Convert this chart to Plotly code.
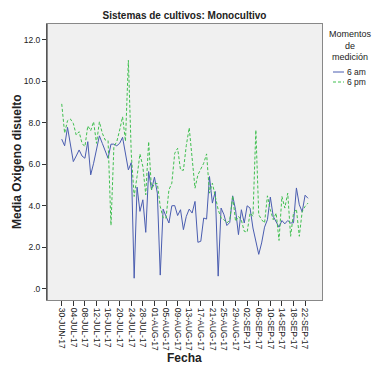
import pandas as pd
import plotly.graph_objects as go

title = "Sistemas de cultivos: Monocultivo"
x_title = "Fecha"
y_title = "Media Oxigeno disuelto"
start_date = "2017-06-30"
legend_title = "Momentos<br>de<br>medición"
series_names = ["6 am", "6 pm"]

am_6 = [7.2, 6.88, 7.77, 7.0, 6.12, 6.39, 6.68, 6.39, 6.28, 7.08,
        5.48, 6.04, 6.68, 7.36, 7.0, 6.68, 6.28, 6.96, 6.96, 6.88,
        7.0, 7.29, 6.52, 5.72, 6.07, 0.5, 4.89, 3.72, 4.28, 2.71,
        5.64, 4.76, 5.37, 4.6, 0.65, 3.83, 3.48, 3.16, 3.99, 4.0,
        3.52, 3.8, 2.84, 3.48, 3.83, 3.64, 4.2, 2.23, 2.28, 3.4,
        3.35, 5.4, 4.12, 4.68, 0.6, 3.88, 3.56, 3.04, 3.19, 4.47,
        3.8, 2.6, 3.8, 3.16, 3.99, 3.88, 2.92, 2.3, 1.65, 2.2,
        2.96, 3.32, 4.41, 3.48, 3.24, 2.96, 3.28, 3.12, 3.28, 3.16,
        3.17, 4.85, 4.04, 3.7, 4.5, 4.35]

pm_6 = [8.9, 7.49, 8.09, 8.17, 7.96, 7.4, 7.56, 7.0, 6.84, 7.84,
        7.61, 8.04, 7.0, 8.04, 7.49, 7.16, 7.13, 3.05, 6.84, 7.08,
        7.64, 8.28, 7.1, 11.0, 6.5, 4.44, 5.4, 6.49, 5.88, 4.52,
        7.08, 4.76, 5.08, 5.06, 3.96, 3.4, 3.4, 4.76, 5.08, 6.52,
        6.76, 5.72, 5.7, 6.9, 7.75, 6.36, 4.84, 5.48, 5.8, 6.04,
        6.49, 4.6, 5.08, 4.44, 3.8, 3.4, 3.32, 3.16, 3.3, 4.47,
        3.24, 3.48, 3.3, 2.76, 2.72, 3.64, 3.48, 7.64, 3.56, 3.32,
        3.16, 4.47, 3.8, 3.32, 3.64, 2.32, 4.44, 3.88, 4.6, 2.52,
        3.64, 3.83, 2.52, 3.72, 3.96, 4.12]

y_tickvals = [0, 2, 4, 6, 8, 10, 12]
y_ticktext = [".0", "2.0", "4.0", "6.0", "8.0", "10.0", "12.0"]

dates = pd.date_range(start_date, periods=len(am_6), freq="D")
x_ticks = pd.date_range(start_date, "2017-09-22", freq="4D")
x_ticktext = [d.strftime("%d-%b-%y").upper() for d in x_ticks]

font_family = "Liberation Sans, Arial, sans-serif"
colors = ["#4a5db0", "#3fbf4f"]
dashes = ["solid", "3px,2px"]

W, H = 377, 376
L, R, T, B = 47, 55, 24, 76
PW, PH = W - L - R, H - T - B


def px(x):
    return (x - L) / PW


def py(y):
    return (H - B - y) / PH


fig = go.Figure()
fig.add_trace(go.Scatter(x=dates, y=am_6, mode="lines", name=series_names[0],
                         line=dict(color=colors[0], width=1)))
fig.add_trace(go.Scatter(x=dates, y=pm_6, mode="lines", name=series_names[1],
                         line=dict(color=colors[1], width=1, dash=dashes[1])))

fig.update_layout(
    width=W, height=H,
    margin=dict(l=L, r=R, t=T, b=B, autoexpand=False),
    paper_bgcolor="white",
    plot_bgcolor="#f0f0f0",
    font=dict(family=font_family, size=9, color="#222"),
    title=dict(text="<b>" + title + "</b>", x=(L + PW / 2) / W, xanchor="center",
               y=1 - 15 / H, yanchor="middle", font=dict(size=10, color="#222")),
    showlegend=False,
)

# axis titles
fig.add_annotation(xref="paper", yref="paper", x=px(L + PW / 2), y=py(358),
                   xanchor="center", yanchor="middle", showarrow=False,
                   text="<b>" + x_title + "</b>", font=dict(size=12, color="#222"))
fig.add_annotation(xref="paper", yref="paper", x=px(17), y=py(T + PH / 2),
                   xanchor="center", yanchor="middle", showarrow=False, textangle=-90,
                   text="<b>" + y_title + "</b>", font=dict(size=12, color="#222"))

# custom legend
fig.add_annotation(xref="paper", yref="paper", x=px(350), y=py(27),
                   xanchor="center", yanchor="top", showarrow=False, align="center",
                   text=legend_title, font=dict(size=9, color="#222"))
for i, name in enumerate(series_names):
    yy = 72 + i * 10
    fig.add_shape(type="line", xref="paper", yref="paper",
                  x0=px(333), x1=px(344), y0=py(yy), y1=py(yy),
                  line=dict(color=colors[i], width=1, dash=dashes[i]))
    fig.add_annotation(xref="paper", yref="paper", x=px(345), y=py(yy),
                       xanchor="left", yanchor="middle", showarrow=False,
                       text=name, font=dict(size=8.5, color="#222"))

fig.update_xaxes(
    type="date", automargin=False,
    range=[pd.Timestamp("2017-06-24 22:00"), pd.Timestamp("2017-09-27 20:00")],
    tickvals=x_ticks, ticktext=x_ticktext, tickangle=90,
    ticks="outside", ticklen=5, tickcolor="#333", tickfont=dict(size=8.5),
    showgrid=False, zeroline=False,
    showline=True, linecolor="#888", linewidth=1, mirror=True,
)
fig.update_yaxes(
    automargin=False,
    range=[-0.55, 12.75],
    tickvals=y_tickvals, ticktext=y_ticktext,
    ticks="outside", ticklen=4, tickcolor="#333", tickfont=dict(size=8.5),
    showgrid=False, zeroline=False,
    showline=True, linecolor="#888", linewidth=1, mirror=True,
)
fig.add_shape(type="line", xref="paper", yref="paper", x0=0, x1=0, y0=0, y1=1,
              line=dict(color="#222", width=1))

fig.write_html("out.html",
               config={"displayModeBar": False},
               post_script="document.body.style.margin='0px';document.body.style.padding='0px';")
